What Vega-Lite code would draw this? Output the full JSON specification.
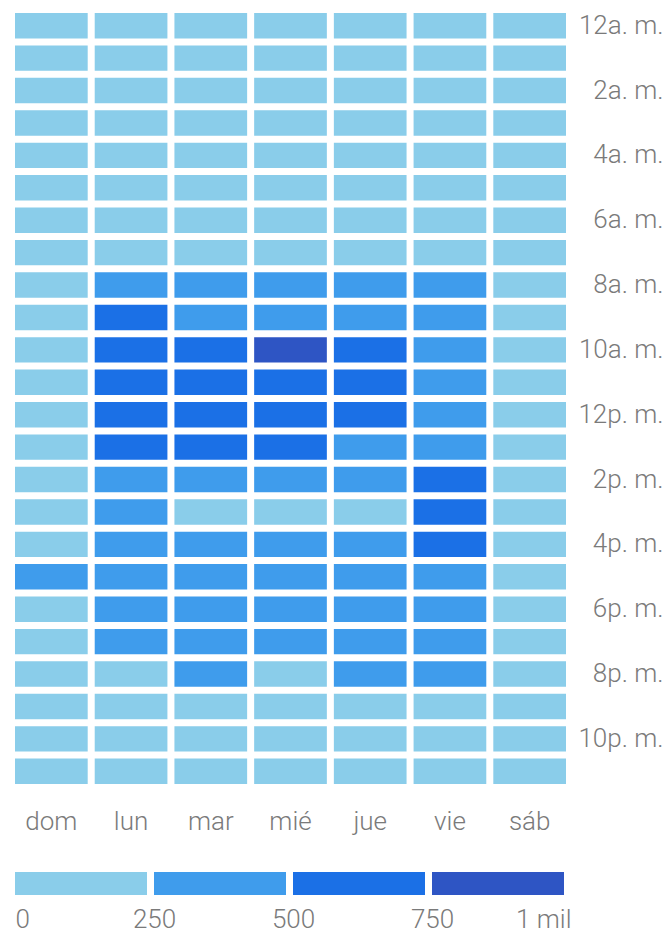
{
  "$schema": "https://vega.github.io/schema/vega-lite/v6.json",
  "background": "white",
  "padding": {"left": 15, "top": 12, "right": 0, "bottom": 0},
  "spacing": 38,
  "config": {
    "view": {"stroke": null},
    "font": "Roboto",
    "axis": {"labelFont": "Roboto", "labelFontWeight": 300, "labelColor": "#7a7a7a", "labelFontSize": 26, "ticks": false, "domain": false, "grid": false, "title": null}
  },
  "vconcat": [
    {
      "width": 551,
      "height": 771,
      "data": {"values": [
        {"hour":0,"day":"dom","value":120},{"hour":0,"day":"lun","value":110},{"hour":0,"day":"mar","value":115},{"hour":0,"day":"mié","value":118},{"hour":0,"day":"jue","value":112},{"hour":0,"day":"vie","value":120},{"hour":0,"day":"sáb","value":125},
        {"hour":1,"day":"dom","value":100},{"hour":1,"day":"lun","value":90},{"hour":1,"day":"mar","value":95},{"hour":1,"day":"mié","value":92},{"hour":1,"day":"jue","value":94},{"hour":1,"day":"vie","value":98},{"hour":1,"day":"sáb","value":105},
        {"hour":2,"day":"dom","value":90},{"hour":2,"day":"lun","value":80},{"hour":2,"day":"mar","value":82},{"hour":2,"day":"mié","value":85},{"hour":2,"day":"jue","value":83},{"hour":2,"day":"vie","value":86},{"hour":2,"day":"sáb","value":92},
        {"hour":3,"day":"dom","value":80},{"hour":3,"day":"lun","value":70},{"hour":3,"day":"mar","value":72},{"hour":3,"day":"mié","value":74},{"hour":3,"day":"jue","value":73},{"hour":3,"day":"vie","value":75},{"hour":3,"day":"sáb","value":82},
        {"hour":4,"day":"dom","value":75},{"hour":4,"day":"lun","value":70},{"hour":4,"day":"mar","value":71},{"hour":4,"day":"mié","value":72},{"hour":4,"day":"jue","value":70},{"hour":4,"day":"vie","value":74},{"hour":4,"day":"sáb","value":78},
        {"hour":5,"day":"dom","value":80},{"hour":5,"day":"lun","value":85},{"hour":5,"day":"mar","value":88},{"hour":5,"day":"mié","value":86},{"hour":5,"day":"jue","value":84},{"hour":5,"day":"vie","value":87},{"hour":5,"day":"sáb","value":82},
        {"hour":6,"day":"dom","value":95},{"hour":6,"day":"lun","value":130},{"hour":6,"day":"mar","value":135},{"hour":6,"day":"mié","value":132},{"hour":6,"day":"jue","value":128},{"hour":6,"day":"vie","value":130},{"hour":6,"day":"sáb","value":100},
        {"hour":7,"day":"dom","value":110},{"hour":7,"day":"lun","value":200},{"hour":7,"day":"mar","value":210},{"hour":7,"day":"mié","value":205},{"hour":7,"day":"jue","value":198},{"hour":7,"day":"vie","value":195},{"hour":7,"day":"sáb","value":120},
        {"hour":8,"day":"dom","value":140},{"hour":8,"day":"lun","value":420},{"hour":8,"day":"mar","value":410},{"hour":8,"day":"mié","value":400},{"hour":8,"day":"jue","value":405},{"hour":8,"day":"vie","value":380},{"hour":8,"day":"sáb","value":150},
        {"hour":9,"day":"dom","value":170},{"hour":9,"day":"lun","value":620},{"hour":9,"day":"mar","value":470},{"hour":9,"day":"mié","value":480},{"hour":9,"day":"jue","value":460},{"hour":9,"day":"vie","value":430},{"hour":9,"day":"sáb","value":180},
        {"hour":10,"day":"dom","value":190},{"hour":10,"day":"lun","value":690},{"hour":10,"day":"mar","value":680},{"hour":10,"day":"mié","value":790},{"hour":10,"day":"jue","value":670},{"hour":10,"day":"vie","value":470},{"hour":10,"day":"sáb","value":200},
        {"hour":11,"day":"dom","value":200},{"hour":11,"day":"lun","value":700},{"hour":11,"day":"mar","value":680},{"hour":11,"day":"mié","value":690},{"hour":11,"day":"jue","value":660},{"hour":11,"day":"vie","value":480},{"hour":11,"day":"sáb","value":210},
        {"hour":12,"day":"dom","value":210},{"hour":12,"day":"lun","value":680},{"hour":12,"day":"mar","value":660},{"hour":12,"day":"mié","value":650},{"hour":12,"day":"jue","value":640},{"hour":12,"day":"vie","value":460},{"hour":12,"day":"sáb","value":215},
        {"hour":13,"day":"dom","value":205},{"hour":13,"day":"lun","value":640},{"hour":13,"day":"mar","value":620},{"hour":13,"day":"mié","value":610},{"hour":13,"day":"jue","value":480},{"hour":13,"day":"vie","value":450},{"hour":13,"day":"sáb","value":210},
        {"hour":14,"day":"dom","value":200},{"hour":14,"day":"lun","value":430},{"hour":14,"day":"mar","value":420},{"hour":14,"day":"mié","value":410},{"hour":14,"day":"jue","value":400},{"hour":14,"day":"vie","value":640},{"hour":14,"day":"sáb","value":205},
        {"hour":15,"day":"dom","value":195},{"hour":15,"day":"lun","value":320},{"hour":15,"day":"mar","value":235},{"hour":15,"day":"mié","value":240},{"hour":15,"day":"jue","value":230},{"hour":15,"day":"vie","value":660},{"hour":15,"day":"sáb","value":200},
        {"hour":16,"day":"dom","value":210},{"hour":16,"day":"lun","value":400},{"hour":16,"day":"mar","value":390},{"hour":16,"day":"mié","value":380},{"hour":16,"day":"jue","value":370},{"hour":16,"day":"vie","value":650},{"hour":16,"day":"sáb","value":205},
        {"hour":17,"day":"dom","value":300},{"hour":17,"day":"lun","value":410},{"hour":17,"day":"mar","value":400},{"hour":17,"day":"mié","value":395},{"hour":17,"day":"jue","value":390},{"hour":17,"day":"vie","value":380},{"hour":17,"day":"sáb","value":215},
        {"hour":18,"day":"dom","value":220},{"hour":18,"day":"lun","value":420},{"hour":18,"day":"mar","value":410},{"hour":18,"day":"mié","value":400},{"hour":18,"day":"jue","value":390},{"hour":18,"day":"vie","value":370},{"hour":18,"day":"sáb","value":210},
        {"hour":19,"day":"dom","value":215},{"hour":19,"day":"lun","value":380},{"hour":19,"day":"mar","value":370},{"hour":19,"day":"mié","value":360},{"hour":19,"day":"jue","value":350},{"hour":19,"day":"vie","value":340},{"hour":19,"day":"sáb","value":200},
        {"hour":20,"day":"dom","value":205},{"hour":20,"day":"lun","value":240},{"hour":20,"day":"mar","value":300},{"hour":20,"day":"mié","value":240},{"hour":20,"day":"jue","value":290},{"hour":20,"day":"vie","value":310},{"hour":20,"day":"sáb","value":190},
        {"hour":21,"day":"dom","value":190},{"hour":21,"day":"lun","value":210},{"hour":21,"day":"mar","value":215},{"hour":21,"day":"mié","value":205},{"hour":21,"day":"jue","value":200},{"hour":21,"day":"vie","value":195},{"hour":21,"day":"sáb","value":180},
        {"hour":22,"day":"dom","value":170},{"hour":22,"day":"lun","value":180},{"hour":22,"day":"mar","value":185},{"hour":22,"day":"mié","value":175},{"hour":22,"day":"jue","value":172},{"hour":22,"day":"vie","value":168},{"hour":22,"day":"sáb","value":160},
        {"hour":23,"day":"dom","value":150},{"hour":23,"day":"lun","value":150},{"hour":23,"day":"mar","value":152},{"hour":23,"day":"mié","value":148},{"hour":23,"day":"jue","value":145},{"hour":23,"day":"vie","value":142},{"hour":23,"day":"sáb","value":140}
      ]},
      "mark": {"type": "rect"},
      "encoding": {
        "x": {"field": "day", "type": "nominal", "sort": ["dom","lun","mar","mié","jue","vie","sáb"], "scale": {"paddingInner": 0.088, "paddingOuter": 0}, "axis": {"orient": "bottom", "labelAngle": 0, "labelPadding": 24}},
        "y": {"field": "hour", "type": "ordinal", "scale": {"paddingInner": 0.216, "paddingOuter": 0}, "axis": {"orient": "right", "values": [0,2,4,6,8,10,12,14,16,18,20,22], "labelExpr": "(datum.value % 12 == 0 ? 12 : datum.value % 12) + (datum.value < 12 ? 'a. m.' : 'p. m.')", "labelAlign": "right", "labelPadding": 97}},
        "color": {"field": "value", "type": "quantitative", "scale": {"type": "threshold", "domain": [250,500,750], "range": ["#8acdea","#3f9cec","#1b70e6","#2e55c4"]}, "legend": null}
      }
    },
    {
      "width": 556,
      "height": 23,
      "data": {"values": [
        {"from": 0, "to": 250},
        {"from": 250, "to": 500},
        {"from": 500, "to": 750},
        {"from": 750, "to": 1000}
      ]},
      "mark": {"type": "rect", "x2Offset": -7},
      "encoding": {
        "x": {"field": "from", "type": "quantitative", "scale": {"domain": [0,1000], "nice": false}, "axis": {"orient": "bottom", "values": [0,250,500,750,1000], "labelExpr": "datum.value == 1000 ? '1 mil' : datum.label", "labelFlush": true, "labelPadding": 11}},
        "x2": {"field": "to"},
        "color": {"field": "from", "type": "quantitative", "scale": {"type": "threshold", "domain": [250,500,750], "range": ["#8acdea","#3f9cec","#1b70e6","#2e55c4"]}, "legend": null}
      }
    }
  ],
  "resolve": {"scale": {"color": "independent", "x": "independent"}}
}
